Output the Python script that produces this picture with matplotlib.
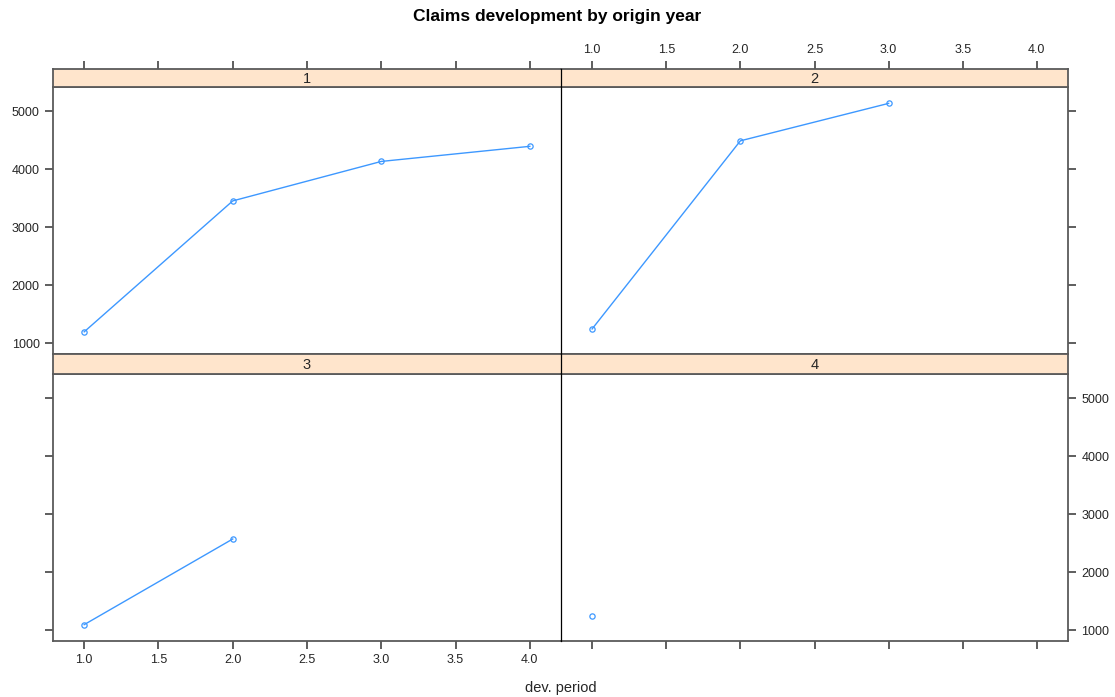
import matplotlib
matplotlib.use("Agg")
import matplotlib.pyplot as plt
from matplotlib.ticker import FormatStrFormatter

plt.rcParams['font.family'] = ['Liberation Sans', 'DejaVu Sans']

# cumulative claims by origin year (panel) and development period
origins = ['1', '2', '3', '4']
dev_1 = [1, 2, 3, 4]
claims_1 = [1200, 3455, 4135, 4395]
dev_2 = [1, 2, 3]
claims_2 = [1250, 4490, 5135]
dev_3 = [1, 2]
claims_3 = [1100, 2575]
dev_4 = [1]
claims_4 = [1255]

x_ticks = [1.0, 1.5, 2.0, 2.5, 3.0, 3.5, 4.0]
y_ticks = [1000, 2000, 3000, 4000, 5000]

W, H = 1115, 697
fig = plt.figure(figsize=(W / 100, H / 100), dpi=100)

def rect(x0, y0, x1, y1):
    return [x0 / W, 1 - y1 / H, (x1 - x0) / W, (y1 - y0) / H]

border = '#5a5a5a'
blue = '#3d98ff'
xlim = (0.79, 4.21)
ylim = (818, 5417)

# panel geometry in pixels: (x0, x1) and (strip_top, strip_bottom, panel_bottom)
cols = [(53, 561), (561, 1068)]
rows = [(69, 87, 354), (354, 374, 641)]
panels = [(0, 0, dev_1, claims_1), (0, 1, dev_2, claims_2),
          (1, 0, dev_3, claims_3), (1, 1, dev_4, claims_4)]

tick_kw = dict(direction='out', length=6, width=1.1, color='#333333',
               labelsize=9, labelcolor='#262626')

for k, (r, c, xs, ys) in enumerate(panels):
    x0, x1 = cols[c]
    st, sb, pb = rows[r]
    ax = fig.add_axes(rect(x0, sb, x1, pb))
    sax = fig.add_axes(rect(x0, st, x1, sb))

    ax.plot(xs, ys, color=blue, lw=1.0, marker='o', markersize=3.8,
            markerfacecolor='none', markeredgecolor=blue, markeredgewidth=0.9)
    ax.set_xlim(*xlim)
    ax.set_ylim(*ylim)
    ax.set_xticks(x_ticks)
    ax.set_yticks(y_ticks)
    ax.xaxis.set_major_formatter(FormatStrFormatter('%.1f'))
    for sp in ax.spines.values():
        sp.set_color(border)
        sp.set_linewidth(1.3)
    # inner vertical edges are drawn as one thin line below
    ax.spines['right' if c == 0 else 'left'].set_visible(False)
    ax.tick_params(bottom=(r == 1), labelbottom=(r == 1 and c == 0),
                   top=False, labeltop=False,
                   left=(c == 0), labelleft=(c == 0 and r == 0),
                   right=(c == 1), labelright=(c == 1 and r == 1), **tick_kw)

    # strip
    sax.set_facecolor('#ffe5cc')
    sax.set_xlim(*xlim)
    sax.set_ylim(0, 1)
    sax.set_yticks([])
    sax.set_xticks(x_ticks)
    sax.xaxis.set_major_formatter(FormatStrFormatter('%.1f'))
    for sp in sax.spines.values():
        sp.set_color(border)
        sp.set_linewidth(1.3)
    sax.spines['right' if c == 0 else 'left'].set_visible(False)
    sax.tick_params(axis='x', bottom=False, labelbottom=False,
                    top=(r == 0), labeltop=(r == 0 and c == 1), **tick_kw)
    sax.text(0.5, 0.45, origins[k], transform=sax.transAxes, ha='center',
             va='center', fontsize=10.5, color='#262626')

# thin divider between the two columns
fig.add_artist(plt.Line2D([561 / W, 561 / W], [1 - 641 / H, 1 - 69 / H],
                          color='black', lw=0.9))

fig.text(0.5, 1 - 17 / H, 'Claims development by origin year', ha='center',
         va='center', fontsize=12.5, fontweight='bold')
fig.text(561 / W, 1 - 688 / H, 'dev. period', ha='center', va='center',
         fontsize=10.5, color='#262626')

fig.savefig('out.png', dpi=100)
